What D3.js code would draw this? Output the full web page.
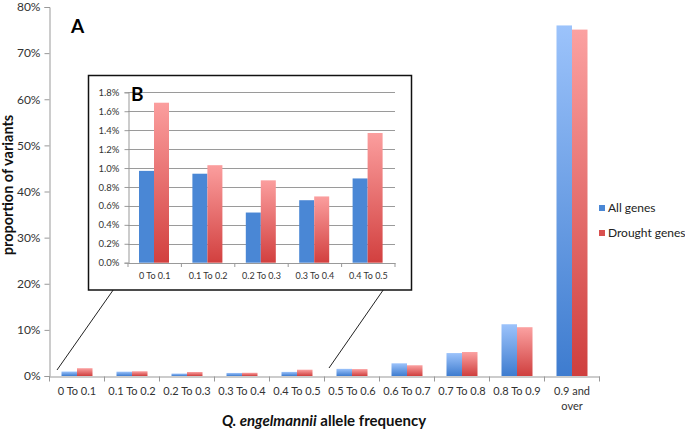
<!DOCTYPE html>
<html>
<head>
<meta charset="utf-8">
<script src="https://cdn.jsdelivr.net/npm/d3@7"></script>
<style>
  body { margin: 0; background: #fff; }
  text { font-family: Lato, "Open Sans", sans-serif; }
</style>
</head>
<body>
<div id="canvas"></div>
<script>
// chart data
const categories = ["0 To 0.1", "0.1 To 0.2", "0.2 To 0.3", "0.3 To 0.4", "0.4 To 0.5",
  "0.5 To 0.6", "0.6 To 0.7", "0.7 To 0.8", "0.8 To 0.9", "0.9 and over"];
const seriesNames = ["All genes", "Drought genes"];
const allGenes = [0.0097, 0.0094, 0.0053, 0.0066, 0.0089, 0.0155, 0.0275, 0.0497, 0.1122, 0.760];
const droughtGenes = [0.0169, 0.0103, 0.0087, 0.0070, 0.0137, 0.0150, 0.0233, 0.0520, 0.1058, 0.751];
const mainTicks = [0, 0.1, 0.2, 0.3, 0.4, 0.5, 0.6, 0.7, 0.8];
const insetTicks = [0, 0.002, 0.004, 0.006, 0.008, 0.010, 0.012, 0.014, 0.016, 0.018];
const insetCount = 5;

const data = categories.map((c, i) => ({ cat: c, vals: [allGenes[i], droughtGenes[i]] }));
const insetData = data.slice(0, insetCount);

const width = 685, height = 429;
const svg = d3.select("#canvas").append("svg")
  .attr("width", width).attr("height", height);

// gradients
const defs = svg.append("defs");
function grad(id, top, bottom) {
  const g = defs.append("linearGradient").attr("id", id)
    .attr("x1", 0).attr("y1", 0).attr("x2", 0).attr("y2", 1);
  g.append("stop").attr("offset", "0%").attr("stop-color", top);
  g.append("stop").attr("offset", "100%").attr("stop-color", bottom);
}
grad("gBlue", "#9cc3fb", "#3e7ccf");
grad("gRed", "#fba1a1", "#cf3f3e");
grad("gRedIn", "#fb9e9e", "#d2403f");
const mainFill = ["url(#gBlue)", "url(#gRed)"];
const insetFill = ["#4a87d5", "url(#gRedIn)"];
const legendFill = ["#4a87d5", "#d9504f"];

// ---- main chart ----
const x = d3.scaleBand().domain(categories).range([49.5, 599.5]);
const x1 = d3.scaleBand().domain([0, 1]).range([12, 43]);
const y = d3.scaleLinear().domain([0, 0.8]).range([376, 7]);

const groups = svg.append("g").selectAll("g").data(data).enter().append("g")
  .attr("transform", d => `translate(${x(d.cat)},0)`);
groups.selectAll("rect").data(d => d.vals).enter().append("rect")
  .attr("x", (v, i) => x1(i))
  .attr("width", x1.bandwidth())
  .attr("y", v => y(v))
  .attr("height", v => 376 - y(v))
  .style("fill", (v, i) => mainFill[i]);

const yAxis = svg.append("g").attr("transform", "translate(49.5,0)")
  .call(d3.axisLeft(y).tickValues(mainTicks).tickFormat(d3.format(".0%")).tickSize(5));
yAxis.select(".domain").attr("stroke", "#999");
yAxis.selectAll(".tick line").attr("stroke", "#999");
yAxis.selectAll(".tick text").attr("font-size", 12).attr("fill", "#333").attr("x", -9);

const xAxis = svg.append("g").attr("transform", "translate(0,376.5)")
  .call(d3.axisBottom(x).tickSize(0).tickSizeOuter(0));
xAxis.select(".domain").attr("stroke", "#999");
xAxis.selectAll(".tick text").attr("font-size", 11).attr("fill", "#333").attr("y", 11)
  .each(function (d) {
    if (d === "0.9 and over") {
      const t = d3.select(this).text(null);
      t.append("tspan").attr("x", 0).attr("dy", "0.71em").text("0.9 and");
      t.append("tspan").attr("x", 0).attr("dy", "1.3em").text("over");
    }
  });
// band boundary ticks
svg.append("g").selectAll("line").data(categories.concat(["end"])).enter().append("line")
  .attr("x1", (d, i) => i < categories.length ? x(d) : x.range()[1])
  .attr("x2", (d, i) => i < categories.length ? x(d) : x.range()[1])
  .attr("y1", 376.5).attr("y2", 381.5).attr("stroke", "#999");

// axis titles
svg.append("text").attr("transform", "translate(13,185) rotate(-90)")
  .attr("text-anchor", "middle").attr("font-size", 14.5).attr("font-weight", "bold")
  .attr("fill", "#111").text("proportion of variants");
const xt = svg.append("text").attr("x", 324).attr("y", 426).attr("text-anchor", "middle")
  .attr("font-size", 15).attr("font-weight", "bold").attr("fill", "#111");
xt.append("tspan").attr("font-style", "italic").text("Q. engelmannii");
xt.append("tspan").text(" allele frequency");

svg.append("text").attr("x", 71).attr("y", 33).attr("font-size", 19)
  .attr("font-weight", "bold").attr("font-family", "Liberation Sans, Arial").text("A");

// legend
const leg = svg.append("g").selectAll("g").data(seriesNames).enter().append("g")
  .attr("transform", (d, i) => `translate(599,${205 + i * 25})`);
leg.append("rect").attr("width", 6).attr("height", 6).style("fill", (d, i) => legendFill[i]);
leg.append("text").attr("x", 9).attr("y", 7).attr("font-size", 12).attr("fill", "#222").text(d => d);

// ---- zoom lines ----
svg.append("line").attr("x1", 57).attr("y1", 370).attr("x2", 123).attr("y2", 276)
  .attr("stroke", "#222").attr("stroke-width", 1);
svg.append("line").attr("x1", 329).attr("y1", 368).attr("x2", 395).attr("y2", 273)
  .attr("stroke", "#222").attr("stroke-width", 1);

// ---- inset chart ----
const inset = svg.append("g");
inset.append("rect").attr("x", 88.5).attr("y", 75.5).attr("width", 323).attr("height", 214.5)
  .attr("fill", "#fff").attr("stroke", "#111").attr("stroke-width", 1.5);

const xi = d3.scaleBand().domain(insetData.map(d => d.cat)).range([128, 395]);
const xi1 = d3.scaleBand().domain([0, 1]).range([11, 41]);
const yi = d3.scaleLinear().domain([0, 0.018]).range([262.7, 92.3]);

inset.append("g").selectAll("line").data(insetTicks.slice(1)).enter().append("line")
  .attr("x1", 128).attr("x2", 395)
  .attr("y1", d => Math.round(yi(d)) + 0.5).attr("y2", d => Math.round(yi(d)) + 0.5)
  .attr("stroke", "#9a9a9a");

const ig = inset.append("g").selectAll("g").data(insetData).enter().append("g")
  .attr("transform", d => `translate(${xi(d.cat)},0)`);
ig.selectAll("rect").data(d => d.vals).enter().append("rect")
  .attr("x", (v, i) => xi1(i))
  .attr("width", xi1.bandwidth())
  .attr("y", v => yi(v))
  .attr("height", v => yi(0) - yi(v))
  .style("fill", (v, i) => insetFill[i]);

const yiAxis = inset.append("g").attr("transform", "translate(128.5,0)")
  .call(d3.axisLeft(yi).tickValues(insetTicks).tickFormat(d3.format(".1%")).tickSize(4));
yiAxis.select(".domain").attr("stroke", "#999");
yiAxis.selectAll(".tick line").attr("stroke", "#999");
yiAxis.selectAll(".tick text").attr("font-size", 9.5).attr("fill", "#333").attr("x", -9);

const xiAxis = inset.append("g").attr("transform", "translate(0,263)")
  .call(d3.axisBottom(xi).tickSize(0).tickSizeOuter(0));
xiAxis.select(".domain").attr("stroke", "#999");
xiAxis.selectAll(".tick text").attr("font-size", 9).attr("fill", "#333").attr("y", 10);
inset.append("g").selectAll("line").data(insetData.map(d => d.cat).concat(["end"])).enter().append("line")
  .attr("x1", (d, i) => i < insetCount ? xi(d) : 395)
  .attr("x2", (d, i) => i < insetCount ? xi(d) : 395)
  .attr("y1", 263).attr("y2", 267).attr("stroke", "#999");

inset.append("text").attr("x", 131).attr("y", 101).attr("font-size", 19)
  .attr("font-weight", "bold").attr("font-family", "Liberation Sans, Arial").text("B");
</script>
</body>
</html>
